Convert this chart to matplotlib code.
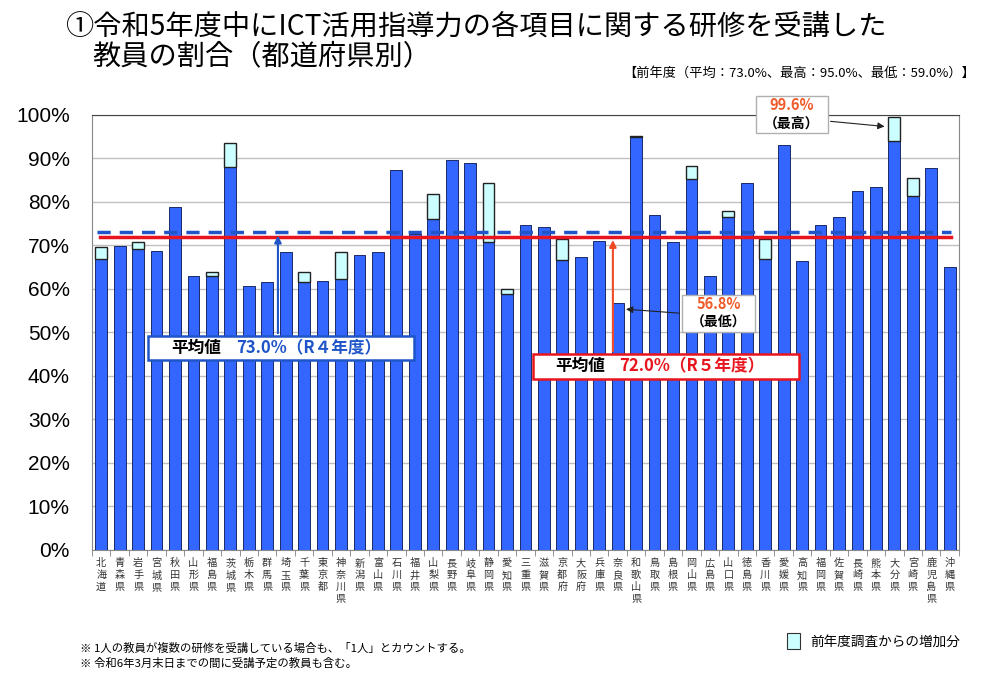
import matplotlib
matplotlib.use("Agg")
import matplotlib.pyplot as plt
from matplotlib.patches import Rectangle, Patch
import numpy as np

JP = ['Noto Sans CJK JP', 'DejaVu Sans']
plt.rcParams['font.family'] = JP

prefectures = ["北海道", "青森県", "岩手県", "宮城県", "秋田県", "山形県", "福島県", "茨城県",
               "栃木県", "群馬県", "埼玉県", "千葉県", "東京都", "神奈川県", "新潟県", "富山県",
               "石川県", "福井県", "山梨県", "長野県", "岐阜県", "静岡県", "愛知県", "三重県",
               "滋賀県", "京都府", "大阪府", "兵庫県", "奈良県", "和歌山県", "鳥取県", "島根県",
               "岡山県", "広島県", "山口県", "徳島県", "香川県", "愛媛県", "高知県", "福岡県",
               "佐賀県", "長崎県", "熊本県", "大分県", "宮崎県", "鹿児島県", "沖縄県"]

# blue portion (R5 value, or R4 value where there was an increase)
base_rate = [67.0, 69.9, 69.2, 68.7, 78.8, 63.1, 63.1, 88.0,
             60.7, 61.5, 68.5, 61.5, 61.8, 62.2, 67.7, 68.5,
             87.3, 72.6, 76.0, 89.7, 88.9, 70.8, 58.9, 74.7,
             74.2, 66.7, 67.3, 71.0, 56.8, 95.0, 76.9, 70.8,
             85.2, 63.1, 76.6, 84.4, 66.8, 93.0, 66.5, 74.7,
             76.6, 82.5, 83.5, 94.0, 81.3, 87.7, 65.0]
# light-blue portion: increase from previous year's survey
increase = [2.6, 0.0, 1.7, 0.0, 0.0, 0.0, 0.8, 5.6,
            0.0, 0.0, 0.0, 2.3, 0.0, 6.3, 0.0, 0.0,
            0.0, 0.0, 5.8, 0.0, 0.0, 13.6, 1.0, 0.0,
            0.0, 4.7, 0.0, 0.0, 0.0, 0.2, 0.0, 0.0,
            3.1, 0.0, 1.3, 0.0, 4.6, 0.0, 0.0, 0.0,
            0.0, 0.0, 0.0, 5.6, 4.1, 0.0, 0.0]

avg_r4 = 73.0
avg_r5 = 72.0
yticks = [0, 10, 20, 30, 40, 50, 60, 70, 80, 90, 100]

fig = plt.figure(figsize=(9.84, 6.76), dpi=100)
ax = fig.add_axes([0.0935, 0.1864, 0.881, 0.6435])

x = np.arange(len(prefectures))
w = 0.64
ax.bar(x, base_rate, width=w, color='#3366ff', edgecolor='#1a2a66', linewidth=0.7, zorder=3)
inc = np.array(increase)
mask = inc > 0
ax.bar(x[mask], inc[mask], bottom=np.array(base_rate)[mask], width=w, color='#ccffff',
       edgecolor='#222222', linewidth=1.0, zorder=3)

ax.set_xlim(-0.5, len(prefectures) - 0.5)
ax.set_ylim(0, 100)
ax.set_yticks(yticks)
ax.set_yticklabels([f"{v}%" for v in yticks], family='Liberation Sans', fontsize=15)
ax.tick_params(axis='y', length=0, pad=16)
ax.yaxis.grid(True, color='#c0c0c0', linewidth=1.0, zorder=0)
ax.set_axisbelow(True)

ax.set_xticks(x)
ax.set_xticklabels(["\n".join(p) for p in prefectures], fontsize=7.3, linespacing=1.25,
                   va='top', color='#333333')
ax.tick_params(axis='x', length=0, pad=6)
ax.set_xticks(np.arange(-0.5, len(prefectures), 1.0), minor=True)
ax.tick_params(axis='x', which='minor', length=4, color='#808080')

for s in ['left', 'bottom', 'right']:
    ax.spines[s].set_color('#888888')
ax.spines['top'].set_color('#444444')

# average lines
ax.plot([-0.25, 46.05], [avg_r4, avg_r4], color='#1f55c8', linewidth=2.5,
        dashes=(3.8, 2.6), zorder=6)
ax.plot([-0.05, 46.05], [avg_r5, avg_r5], color='#e8141e', linewidth=2.5, zorder=5)

# R4 average label
ax.add_patch(Rectangle((2.53, 43.7), 14.42, 5.5, facecolor='white', edgecolor='#1f55c8',
                       linewidth=1.8, zorder=7))
ax.text(3.8, 46.45, "平均値", fontsize=12, fontweight='bold', color='black',
        va='center', ha='left', zorder=8)
ax.text(7.3, 46.45, "73.0%（R４年度）", fontsize=12, fontweight='bold', color='#1f55c8',
        va='center', ha='left', zorder=8)
ax.annotate("", xy=(9.58, avg_r4 - 0.1), xytext=(9.58, 49.2),
            arrowprops=dict(arrowstyle='-|>', color='#1f55c8', lw=1.5, mutation_scale=10),
            zorder=7)

# R5 average label
ax.add_patch(Rectangle((23.4, 39.3), 14.42, 5.75, facecolor='white', edgecolor='#e8141e',
                       linewidth=1.8, zorder=7))
ax.text(24.6, 42.2, "平均値", fontsize=12, fontweight='bold', color='black',
        va='center', ha='left', zorder=8)
ax.text(28.1, 42.2, "72.0%（R５年度）", fontsize=12, fontweight='bold', color='#e8141e',
        va='center', ha='left', zorder=8)
ax.annotate("", xy=(27.74, avg_r5 - 0.1), xytext=(27.74, 45.05),
            arrowprops=dict(arrowstyle='-|>', color='#f04a25', lw=1.5, mutation_scale=10),
            zorder=7)

# lowest
ax.add_patch(Rectangle((31.48, 50.1), 3.96, 8.5, facecolor='white', edgecolor='#b0b0b0',
                       linewidth=1.0, zorder=7))
ax.text(33.46, 56.6, "56.8%", fontsize=10.5, fontweight='bold', color='#f05a28',
        va='center', ha='center', zorder=8)
ax.text(33.46, 52.3, "（最低）", fontsize=10, fontweight='bold', color='black',
        va='center', ha='center', zorder=8)
ax.annotate("", xy=(28.3, 55.4), xytext=(31.48, 54.4),
            arrowprops=dict(arrowstyle='-|>', color='#222222', lw=0.8, mutation_scale=10),
            zorder=7)

# highest
ax.add_patch(Rectangle((35.49, 95.9), 3.9, 8.5, facecolor='white', edgecolor='#b0b0b0',
                       linewidth=1.0, zorder=7, clip_on=False))
ax.text(37.44, 102.3, "99.6%", fontsize=10.5, fontweight='bold', color='#f05a28',
        va='center', ha='center', zorder=8, clip_on=False)
ax.text(37.44, 98.0, "（最高）", fontsize=10, fontweight='bold', color='black',
        va='center', ha='center', zorder=8, clip_on=False)
ax.annotate("", xy=(42.62, 97.3), xytext=(39.39, 98.6),
            arrowprops=dict(arrowstyle='-|>', color='#222222', lw=0.8, mutation_scale=10),
            zorder=7, annotation_clip=False)

# titles
fig.text(65 / 984, 1 - 27 / 676, "①令和5年度中にICT活用指導力の各項目に関する研修を受講した",
         fontsize=20.3, va='center', ha='left')
fig.text(92 / 984, 1 - 56 / 676, "教員の割合（都道府県別）",
         fontsize=20.3, va='center', ha='left')
fig.text(975 / 984, 1 - 73 / 676, "【前年度（平均：73.0%、最高：95.0%、最低：59.0%）】",
         fontsize=9.5, va='center', ha='right')

# footnotes
fig.text(80 / 984, 1 - 648 / 676, "※ 1人の教員が複数の研修を受講している場合も、「1人」とカウントする。",
         fontsize=8.2, va='center', ha='left')
fig.text(80 / 984, 1 - 663 / 676, "※ 令和6年3月末日までの間に受講予定の教員も含む。",
         fontsize=8.2, va='center', ha='left')

# legend
fig.legend(handles=[Patch(facecolor='#ccffff', edgecolor='#333333', linewidth=0.8,
                          label='前年度調査からの増加分')],
           loc='center left', bbox_to_anchor=(775 / 984, 1 - 641 / 676), frameon=False,
           fontsize=9.8, handlelength=0.9, handleheight=1.4, handletextpad=0.8)

fig.savefig("out.png", dpi=100)
